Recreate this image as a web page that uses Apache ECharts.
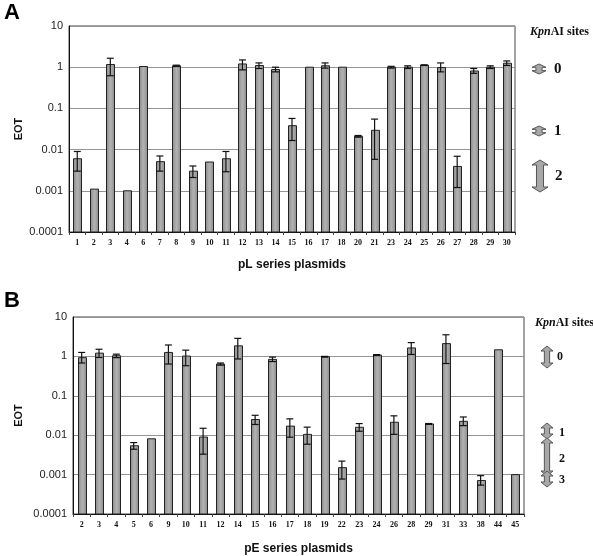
<!DOCTYPE html>
<html><head><meta charset="utf-8">
<script src="https://cdn.jsdelivr.net/npm/echarts@6/dist/echarts.min.js"></script>
<style>html,body{margin:0;padding:0;background:#fff}#c{width:593px;height:556px}</style>
</head><body><div id="c"></div>
<script>
// Panel A: pL series
const catsA = ['1','2','3','4','6','7','8','9','10','11','12','13','14','15','16','17','18','20','21','23','24','25','26','27','28','29','30'];
const valsA = [0.006,0.0011,1.16,0.001,1.04,0.0051,1.08,0.003,0.005,0.006,1.2,1.1,0.88,0.038,1.0,1.08,1.0,0.021,0.0294,1.0,1.0,1.12,0.98,0.0039,0.81,1.0,1.25];
const lowA  = [0.003,null,0.62,null,null,0.003,1.04,0.0021,null,0.0029,0.86,0.93,0.77,0.0166,null,0.95,null,0.020,0.0058,0.95,0.93,1.1,0.77,0.0012,0.71,0.93,1.1];
const highA = [0.009,null,1.65,null,null,0.007,1.12,0.004,null,0.009,1.5,1.27,1.0,0.057,null,1.27,null,0.022,0.055,1.05,1.08,1.14,1.27,0.0069,0.93,1.08,1.42];
// Panel B: pE series
const catsB = ['2','3','4','5','6','9','10','11','12','14','15','16','17','18','19','22','23','24','26','28','29','31','33','38','44','45'];
const valsB = [0.93,1.21,1.04,0.0054,0.0081,1.26,1.02,0.009,0.64,1.85,0.025,0.84,0.017,0.0105,0.98,0.0015,0.0159,1.08,0.0213,1.64,0.0193,2.11,0.0225,0.00071,1.47,0.001];
const lowB  = [0.68,0.94,0.93,0.0044,null,0.64,0.58,0.0033,0.6,0.86,0.0187,0.74,0.0089,0.0059,0.96,0.00077,0.0126,1.05,0.0105,1.12,0.0188,0.66,0.0175,0.00054,null,null];
const highB = [1.26,1.52,1.14,0.0065,null,1.95,1.44,0.015,0.68,2.87,0.032,0.96,0.026,0.016,1.0,0.0022,0.0197,1.11,0.031,2.24,0.0198,3.54,0.029,0.00094,null,null];
const yMin = 0.0001, yMax = 10;
const yTickLabels = {'-4':'0.0001','-3':'0.001','-2':'0.01','-1':'0.1','0':'1','1':'10'};
const legendA = ['0','1','2'];
const legendB = ['0','1','2','3'];

function errData(low, high){
  const out=[];
  low.forEach((l,i)=>{ if(l!=null && high[i]!=null) out.push([i,l,high[i]]); });
  return out;
}
function errRender(params, api){
  const i = api.value(0);
  const lo = api.coord([i, api.value(1)]);
  const hi = api.coord([i, api.value(2)]);
  const hw = 3.5;
  const st = {stroke:'#111', lineWidth:1.2};
  return {type:'group', children:[
    {type:'line', shape:{x1:lo[0],y1:lo[1],x2:hi[0],y2:hi[1]}, style:st},
    {type:'line', shape:{x1:hi[0]-hw,y1:hi[1],x2:hi[0]+hw,y2:hi[1]}, style:st},
    {type:'line', shape:{x1:lo[0]-hw,y1:lo[1],x2:lo[0]+hw,y2:lo[1]}, style:st}
  ]};
}
const barFill = {type:'linear',x:0,y:0,x2:1,y2:0,colorStops:[{offset:0,color:'#8a8a8a'},{offset:0.5,color:'#b2b2b2'},{offset:1,color:'#8a8a8a'}]};
function barRender(params, api){
  const i = api.value(0);
  const top = api.coord([i, api.value(1)]);
  const base = api.coord([i, yMin]);
  const w = 8;
  return {type:'rect', shape:{x:Math.round(top[0]-w/2)+0.5, y:top[1], width:w, height:base[1]-top[1]},
    style:{fill:barFill, stroke:'#222', lineWidth:1}};
}
function yAxis(gi){
  return {type:'log', logBase:10, min:yMin, max:yMax, gridIndex:gi,
    name:'EOT', nameLocation:'middle', nameGap:gi===0?45:49, nameRotate:90, nameMoveOverlap:false,
    nameTextStyle:{fontFamily:'Liberation Sans', fontWeight:'bold', fontSize:11, color:'#111'},
    axisLine:{show:true, lineStyle:{color:'#111', width:1}},
    axisTick:{show:false},
    axisLabel:{fontFamily:'Liberation Sans', fontSize:11, color:'#222', margin:6,
      formatter:v=>yTickLabels[String(Math.round(Math.log10(v)))]||''},
    splitLine:{show:true, lineStyle:{color:'#959595', width:1}},
    minorTick:{show:false}};
}
function xAxis(gi, cats, name){
  return {type:'category', data:cats, gridIndex:gi,
    name:name, nameLocation:'middle', nameGap:gi===0?27:29,
    nameTextStyle:{fontFamily:'Liberation Sans', fontWeight:'bold', fontSize:12, color:'#111'},
    axisLine:{lineStyle:{color:'#111', width:1}},
    axisTick:{show:true, length:3, lineStyle:{color:'#444'}},
    axisLabel:{fontFamily:'Liberation Serif', fontWeight:'bold', fontSize:8, color:'#111', margin:7, interval:0}};
}
function barSeries(gi, vals){
  return {type:'custom', xAxisIndex:gi, yAxisIndex:gi, data:vals.map((v,i)=>[i,v]),
    encode:{x:0, y:1}, renderItem:barRender, z:5, animation:false};
}
function errSeries(gi, low, high){
  return {type:'custom', xAxisIndex:gi, yAxisIndex:gi, data:errData(low,high),
    encode:{x:0, y:[1,2]}, renderItem:errRender, z:10, animation:false};
}
function arrow(cx, y1, y2, w){
  const hw = w/2, sw = w*0.22, hh = Math.min(5, (y2-y1)/3);
  return {type:'polygon', shape:{points:[
    [cx, y1],[cx+hw, y1+hh],[cx+sw, y1+hh],[cx+sw, y2-hh],[cx+hw, y2-hh],[cx, y2],
    [cx-hw, y2-hh],[cx-sw, y2-hh],[cx-sw, y1+hh],[cx-hw, y1+hh]]},
    style:{fill:'#a8a8a8', stroke:'#555', lineWidth:1}};
}
function txt(x,y,t,size){
  return {type:'text', x:x, y:y, style:{text:t, fontFamily:'Liberation Serif', fontWeight:'bold', fontSize:size, fill:'#111', textVerticalAlign:'middle'}};
}
function kpn(x,y){
  return {type:'text', x:x, y:y, style:{rich:{i:{fontFamily:'Liberation Serif', fontStyle:'italic', fontWeight:'bold', fontSize:12, fill:'#111'}, n:{fontFamily:'Liberation Serif', fontWeight:'bold', fontSize:12, fill:'#111'}},
    text:'{i|Kpn}{n|AI sites}', textVerticalAlign:'middle'}};
}

const chart = echarts.init(document.getElementById('c'), null, {renderer:'canvas'});
chart.setOption({
  animation:false,
  grid:[
    {left:69, right:78, top:26, height:206, show:true, borderColor:'#444', borderWidth:1, backgroundColor:'transparent'},
    {left:73, right:69, top:317, height:201, show:true, borderColor:'#444', borderWidth:1, backgroundColor:'transparent'}
  ],
  xAxis:[xAxis(0, catsA, 'pL series plasmids'), xAxis(1, catsB, 'pE series plasmids')],
  yAxis:[yAxis(0), yAxis(1)],
  series:[barSeries(0, valsA), errSeries(0, lowA, highA), barSeries(1, valsB), errSeries(1, lowB, highB)],
  graphic:[
    {type:'text', left:4, top:2, style:{text:'A', fontFamily:'Liberation Sans', fontWeight:'bold', fontSize:22, fill:'#000'}},
    {type:'text', left:4, top:290, style:{text:'B', fontFamily:'Liberation Sans', fontWeight:'bold', fontSize:22, fill:'#000'}},
    kpn(530, 32),
    arrow(539, 64, 74, 14), txt(554, 69, legendA[0], 15),
    arrow(539, 126, 136, 14), txt(554, 131, legendA[1], 15),
    arrow(540, 160, 192, 16), txt(555, 176, legendA[2], 15),
    kpn(535, 323),
    arrow(547, 346, 368, 12), txt(557, 357, legendB[0], 12),
    arrow(547, 423, 439, 12), txt(559, 433, legendB[1], 12),
    arrow(547, 438, 476, 12), txt(559, 459, legendB[2], 12),
    arrow(547, 471, 487, 12), txt(559, 480, legendB[3], 12)
  ]
});
</script></body></html>
